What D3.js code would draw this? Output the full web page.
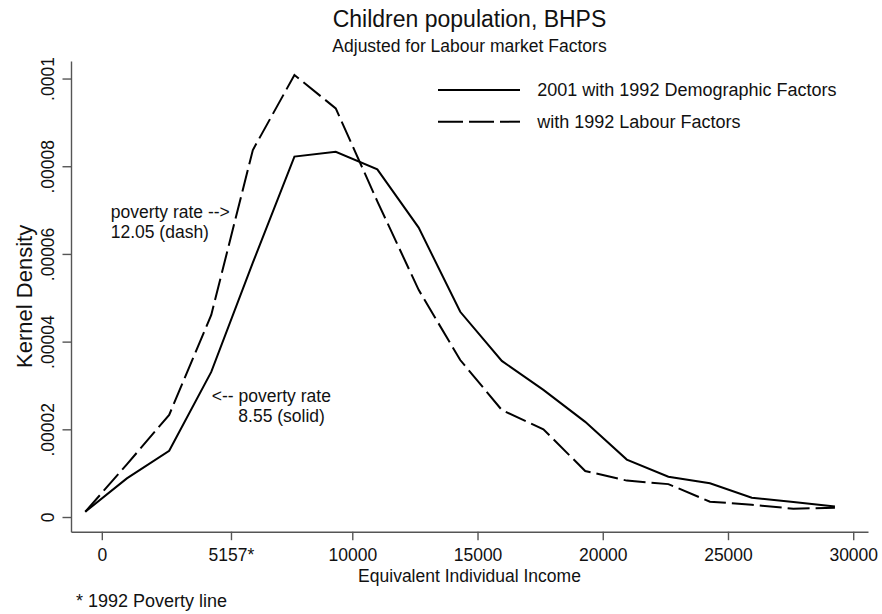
<!DOCTYPE html>
<html>
<head>
<meta charset="utf-8">
<script src="https://cdn.jsdelivr.net/npm/d3@7"></script>
<style>
  html, body { margin: 0; padding: 0; background: #fff; }
  svg { display: block; font-family: "Liberation Sans", Arial, Helvetica, sans-serif; }
</style>
</head>
<body>
<svg id="chart" width="882" height="614"></svg>
<script>
// Kernel density estimates of equivalent individual income (children, BHPS)
const incomeGrid = [-660, 1000, 2690, 4370, 6030, 7690, 9340, 11000, 12650, 14310,
                    15970, 17630, 19300, 20960, 22620, 24280, 25950, 27610, 29270];
const demographicDensity = [0.0000012, 0.0000088, 0.0000151, 0.0000331, 0.000058, 0.0000822,
                            0.0000833, 0.0000793, 0.000066, 0.0000468, 0.0000356, 0.000029,
                            0.0000217, 0.0000131, 0.0000092, 0.0000077, 0.0000044, 0.0000034, 0.0000024];
const labourDensity = [0.0000012, 0.000012, 0.0000233, 0.0000461, 0.0000837, 0.0001008,
                       0.0000932, 0.000072, 0.0000518, 0.0000358, 0.0000244, 0.00002,
                       0.0000105, 0.0000083, 0.0000075, 0.0000035, 0.0000028, 0.0000019, 0.0000021];

const seriesNames = ["2001 with 1992 Demographic Factors", "with 1992 Labour Factors"];

const xTickValues = [0, 5157, 10000, 15000, 20000, 25000, 30000];
const xTickLabels = ["0", "5157*", "10000", "15000", "20000", "25000", "30000"];
const yTickValues = [0, 0.00002, 0.00004, 0.00006, 0.00008, 0.0001];
const yTickLabels = ["0", ".00002", ".00004", ".00006", ".00008", ".0001"];

// Poverty-rate notes, anchored in data units
const noteDash = { x: 355, y: 0.0000683, lines: ["poverty rate -->", "12.05 (dash)"], indent: [0, 0] };
const noteSolid = { x: 4390, y: 0.0000263, lines: ["<-- poverty rate", "8.55 (solid)"], indent: [0, 26.6] };

const titleText = "Children population, BHPS";
const subtitleText = "Adjusted for Labour market Factors";
const xTitle = "Equivalent Individual Income";
const yTitle = "Kernel Density";
const footnote = "* 1992 Poverty line";

const svg = d3.select("#chart");
const plot = { left: 71, right: 868, top: 61, bottom: 531.7 };
const axisColor = "#555";

const x = d3.scaleLinear().domain([-1230, 30590]).range([plot.left, plot.right]);
const y = d3.scaleLinear().domain([-0.00000335, 0.000104]).range([plot.bottom, plot.top]);

// Axes
const xAxis = d3.axisBottom(x).tickValues(xTickValues)
  .tickFormat((d, i) => xTickLabels[i]).tickSizeInner(8.5).tickSizeOuter(0).tickPadding(8);
const gx = svg.append("g").attr("transform", `translate(0,${plot.bottom})`).call(xAxis);
gx.select(".domain").attr("stroke", axisColor).attr("stroke-width", 1.4);
gx.selectAll(".tick line").attr("stroke", axisColor).attr("stroke-width", 1.4);
gx.selectAll(".tick text").attr("font-size", 17.5).attr("fill", "#111")
  .attr("font-family", "Liberation Sans, Arial, sans-serif");

const yAxis = d3.axisLeft(y).tickValues(yTickValues)
  .tickFormat((d, i) => yTickLabels[i]).tickSizeInner(8.5).tickSizeOuter(0);
const gy = svg.append("g").attr("transform", `translate(${plot.left},0)`).call(yAxis);
gy.select(".domain").attr("stroke", axisColor).attr("stroke-width", 1.4);
gy.selectAll(".tick line").attr("stroke", axisColor).attr("stroke-width", 1.4);
gy.selectAll(".tick text")
  .attr("font-size", 17.5).attr("fill", "#111")
  .attr("font-family", "Liberation Sans, Arial, sans-serif")
  .attr("transform", "rotate(-90)")
  .attr("x", 0).attr("y", -17.5).attr("dy", 0)
  .attr("text-anchor", "middle");

// Density curves
const line = d3.line().x(d => x(d[0])).y(d => y(d[1]));
const solidPts = incomeGrid.map((v, i) => [v, demographicDensity[i]]);
const dashPts = incomeGrid.map((v, i) => [v, labourDensity[i]]);

svg.append("path").datum(dashPts).attr("d", line)
  .attr("fill", "none").attr("stroke", "#000").attr("stroke-width", 2)
  .attr("stroke-dasharray", "22,6");
svg.append("path").datum(solidPts).attr("d", line)
  .attr("fill", "none").attr("stroke", "#000").attr("stroke-width", 2);

// Titles
const cx = (plot.left + plot.right) / 2;
svg.append("text").attr("x", cx).attr("y", 26.7).attr("text-anchor", "middle")
  .attr("font-size", 23).attr("fill", "#111").text(titleText);
svg.append("text").attr("x", cx).attr("y", 52.3).attr("text-anchor", "middle")
  .attr("font-size", 17.5).attr("fill", "#111").text(subtitleText);
svg.append("text").attr("x", cx).attr("y", 581.5).attr("text-anchor", "middle")
  .attr("font-size", 17.5).attr("fill", "#111").text(xTitle);
svg.append("text").attr("transform", `translate(31.5,${(plot.top + plot.bottom) / 2}) rotate(-90)`)
  .attr("text-anchor", "middle").attr("font-size", 22).attr("fill", "#111").text(yTitle);
svg.append("text").attr("x", 76).attr("y", 606.7)
  .attr("font-size", 18).attr("fill", "#111").text(footnote);

// Legend
const legend = svg.append("g").attr("transform", "translate(438,90)");
const legendDash = [null, "25,6"];
seriesNames.forEach((name, i) => {
  const row = legend.append("g").attr("transform", `translate(0,${i * 31.7})`);
  row.append("line").attr("x1", 0).attr("x2", 82).attr("y1", 0).attr("y2", 0)
    .attr("stroke", "#000").attr("stroke-width", 2)
    .attr("stroke-dasharray", legendDash[i]);
  row.append("text").attr("x", 99.3).attr("y", 6.3)
    .attr("font-size", 18).attr("fill", "#111").text(name);
});

// Poverty-rate notes
[noteDash, noteSolid].forEach(n => {
  const t = svg.append("text").attr("font-size", 17.5).attr("fill", "#111");
  n.lines.forEach((ln, i) => {
    t.append("tspan").attr("x", x(n.x) + n.indent[i]).attr("y", y(n.y) + i * 20.5).text(ln);
  });
});
</script>
</body>
</html>
